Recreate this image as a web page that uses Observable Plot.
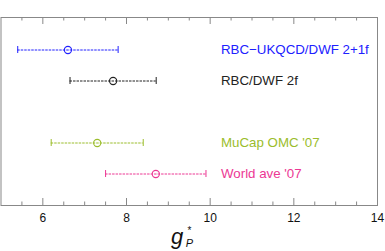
<!DOCTYPE html>
<html><head><meta charset="utf-8">
<script src="https://cdn.jsdelivr.net/npm/d3@7"></script>
<script src="https://cdn.jsdelivr.net/npm/@observablehq/plot@0.6"></script>
<style>body{margin:0;background:#fff}</style>
</head><body><div id="chart"></div>
<script>
const labels = ["RBC\u2212UKQCD/DWF 2+1f", "RBC/DWF 2f", "MuCap OMC '07", "World ave '07"];
const centers = [6.6, 7.68, 7.3, 8.7];
const lows = [5.4, 6.65, 6.2, 7.5];
const highs = [7.8, 8.71, 8.4, 9.9];
const colors = ["#2020ff", "#222222", "#9bbd2c", "#ec3894"];
const rowOrder = [labels[0], labels[1], "(gap)", labels[2], labels[3]];
const majorTicks = [6, 8, 10, 12, 14];
const minorTicks = [5.5, 6.5, 7, 7.5, 8.5, 9, 9.5, 10.5, 11, 11.5, 12.5, 13, 13.5];

const data = labels.map((label, i) => ({label, c: centers[i], lo: lows[i], hi: highs[i], color: colors[i]}));

const W = 385, H = 251, mt = 17, mb = 46;
const fh = H - mt - mb;
const tickColor = "#888";

const chart = Plot.plot({
  width: W, height: H,
  marginLeft: 0.5, marginRight: 8, marginTop: mt, marginBottom: mb,
  style: {fontFamily: "'Liberation Sans', Arial, Helvetica, sans-serif", background: "#fff"},
  x: {domain: [5, 14], axis: null},
  y: {type: "band", domain: rowOrder, paddingInner: 0.78, paddingOuter: 0.89, align: 0.5, axis: null},
  color: {type: "identity"},
  marks: [
    Plot.frame({stroke: tickColor}),
    Plot.tickX(majorTicks, {x: d => d, insetTop: fh - 7, stroke: tickColor}),
    Plot.tickX(majorTicks, {x: d => d, insetBottom: fh - 7, stroke: tickColor}),
    Plot.tickX(minorTicks, {x: d => d, insetTop: fh - 3.5, stroke: tickColor}),
    Plot.tickX(minorTicks, {x: d => d, insetBottom: fh - 3.5, stroke: tickColor}),
    Plot.axisX(majorTicks, {anchor: "bottom", tickSize: 0, tickPadding: 8, fontSize: 12, fill: "#111"}),
    Plot.ruleY(data, {y: "label", x1: "lo", x2: "hi", stroke: "color", strokeWidth: 1, strokeDasharray: "2.5,1"}),
    Plot.tickX(data, {x: "lo", y: "label", stroke: "color"}),
    Plot.tickX(data, {x: "hi", y: "label", stroke: "color"}),
    Plot.dot(data, {x: "c", y: "label", r: 3.6, stroke: "color", fill: "none", strokeWidth: 1.1}),
    Plot.text(data, {y: "label", text: "label", fill: "color", frameAnchor: "left", dx: 220, textAnchor: "start", fontSize: 13.3})
  ]
});

const svg = d3.select(chart);
const t = svg.append("text")
  .attr("font-family", "'Liberation Sans', Arial, Helvetica, sans-serif")
  .attr("font-style", "italic")
  .attr("fill", "#111");
t.append("tspan").attr("x", 177).attr("y", 243.5).attr("font-size", 22).text("g");
const s = svg.append("text")
  .attr("font-family", "'Liberation Sans', Arial, Helvetica, sans-serif")
  .attr("fill", "#111")
  .attr("x", 189.5).attr("y", 234).attr("font-size", 10).text("*");
const p = svg.append("text")
  .attr("font-family", "'Liberation Sans', Arial, Helvetica, sans-serif")
  .attr("font-style", "italic")
  .attr("fill", "#111")
  .attr("x", 189.5).attr("y", 246.5).attr("font-size", 11).text("P");

document.getElementById("chart").appendChild(chart);
</script>
</body></html>
